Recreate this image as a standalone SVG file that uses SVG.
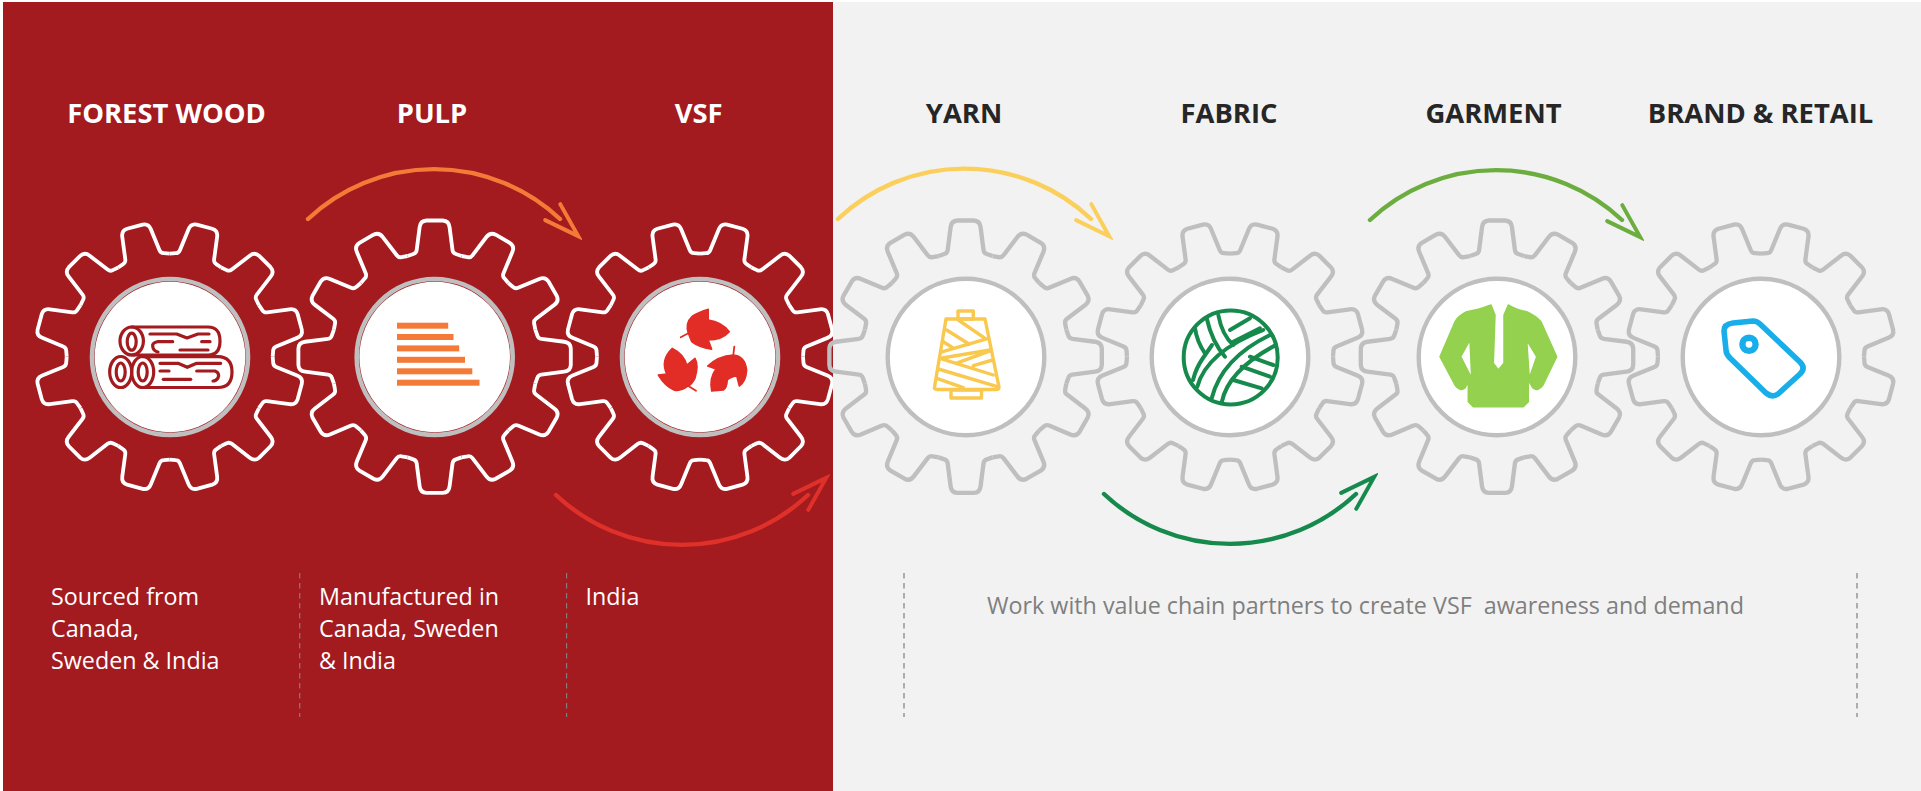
<svg xmlns="http://www.w3.org/2000/svg" width="1921" height="791" viewBox="0 0 1921 791">
<style>
text{font-family:"Open Sans","Liberation Sans",sans-serif}
.h{font-size:27.4px;font-weight:700;text-anchor:middle}
.hw{fill:#fff}.hd{fill:#262626}
.b{font-size:23.3px;fill:#fff}
.n{font-size:23.3px;fill:#7f7f7f;white-space:pre}
.gw{fill:none;stroke:#fff;stroke-width:3.8}
.gg{fill:none;stroke:#bfbfbf;stroke-width:4.3}
.ring{fill:none;stroke:#bfbfbf;stroke-width:4.6}
.ringg{fill:#fff;stroke:#bfbfbf;stroke-width:4.4}
.disc{fill:#fff}
.arc{fill:none;stroke-width:4.4;stroke-linecap:round}
.dash{fill:none;stroke:#7f7f7f;stroke-width:1.2;stroke-dasharray:5.5 4.5}
.head{fill:none;stroke-width:4;stroke-linecap:round;stroke-linejoin:miter}
.log{fill:none;stroke:#a31a1f;stroke-width:3.2;stroke-linecap:round;stroke-linejoin:round}
.yarn{fill:none;stroke:#f9c84f;stroke-width:3.4;stroke-linecap:round;stroke-linejoin:round}
.ball{fill:none;stroke:#168a4c;stroke-width:4;stroke-linecap:round;stroke-linejoin:round}
.leaf{fill:#e12d26;stroke:#e12d26;stroke-width:1.5;stroke-linejoin:round}
.stem{fill:none;stroke:#e12d26;stroke-width:1.8;stroke-linecap:round}
</style>
<defs>
<path id="tooth" d="M-26.66,-99.49 L-21,-101.5 Q-18.06,-102.4 -17.7,-105.5 L-14.8,-128 Q-14.1,-134.3 -8,-134.6 L8,-134.6 Q14.1,-134.3 14.8,-128 L17.7,-105.5 Q18.06,-102.4 21,-101.5 L26.66,-99.49"/>
<g id="gear">
<use href="#tooth"/>
<use href="#tooth" transform="rotate(30)"/>
<use href="#tooth" transform="rotate(60)"/>
<use href="#tooth" transform="rotate(90)"/>
<use href="#tooth" transform="rotate(120)"/>
<use href="#tooth" transform="rotate(150)"/>
<use href="#tooth" transform="rotate(180)"/>
<use href="#tooth" transform="rotate(210)"/>
<use href="#tooth" transform="rotate(240)"/>
<use href="#tooth" transform="rotate(270)"/>
<use href="#tooth" transform="rotate(300)"/>
<use href="#tooth" transform="rotate(330)"/>
</g>
<marker id="mOrange" markerUnits="userSpaceOnUse" markerWidth="44" markerHeight="32" viewBox="-14 -16 44 32" refX="0" refY="0" orient="auto"><path class="head" stroke="#f47b37" d="M-10,-11 L25,0 L-10,11"/></marker>
<marker id="mRed" markerUnits="userSpaceOnUse" markerWidth="44" markerHeight="32" viewBox="-14 -16 44 32" refX="0" refY="0" orient="auto"><path class="head" stroke="#e0302a" d="M-10,-11 L25,0 L-10,11"/></marker>
<marker id="mYellow" markerUnits="userSpaceOnUse" markerWidth="44" markerHeight="32" viewBox="-14 -16 44 32" refX="0" refY="0" orient="auto"><path class="head" stroke="#fbcf5c" d="M-10,-11 L25,0 L-10,11"/></marker>
<marker id="mDark" markerUnits="userSpaceOnUse" markerWidth="44" markerHeight="32" viewBox="-14 -16 44 32" refX="0" refY="0" orient="auto"><path class="head" stroke="#168a4c" d="M-10,-11 L25,0 L-10,11"/></marker>
<marker id="mLime" markerUnits="userSpaceOnUse" markerWidth="44" markerHeight="32" viewBox="-14 -16 44 32" refX="0" refY="0" orient="auto"><path class="head" stroke="#6cad3f" d="M-10,-11 L25,0 L-10,11"/></marker>
</defs>
<rect width="1921" height="791" fill="#fff"/>
<rect x="3" y="2" width="830" height="789" fill="#a31a1f"/>

<g id="node-forest-wood">
<text class="h hw" x="166.5" y="123">FOREST WOOD</text>
<use href="#gear" class="gw" transform="translate(169.7,356.7) rotate(15)"/>
<circle class="ring" cx="170" cy="357" r="78"/><circle class="disc" cx="170" cy="357" r="75.3"/>
<g class="log">
<ellipse cx="131.7" cy="341" rx="11.7" ry="14"/><ellipse cx="131.7" cy="341.7" rx="4.5" ry="8.5"/>
<path d="M131.7,327H208Q220,327 220,341Q220,355 208,355H131.7"/>
<ellipse cx="120.7" cy="372" rx="11" ry="15.5"/><ellipse cx="120.7" cy="372" rx="4.5" ry="9"/>
<ellipse cx="142.7" cy="372" rx="11" ry="15.5"/><ellipse cx="142.7" cy="372" rx="4.5" ry="9"/>
<path d="M142.7,356.7H218Q232,357 232,372Q232,387.5 218,387.5H142.7"/>
<path d="M150,334H176.7L187,338L198,334H209"/>
<path d="M172.7,341.7H157.3Q152,343 152.7,346Q153,351 158,352"/>
<path d="M201.7,341.7H210"/><path d="M180,350H208"/>
<path d="M160,363.3H178L187.3,367.3L196.7,363.3H220.7"/>
<path d="M160,371H169"/>
<path d="M196.7,371H215Q220,373 218,378Q216,381 213,381"/>
<path d="M163.3,379.3H190.7"/>
</g>
<text class="b" x="51" y="605">Sourced from</text><text class="b" x="51" y="637">Canada,</text><text class="b" x="51" y="669">Sweden &amp; India</text>
</g>

<g id="node-pulp">
<text class="h hw" x="432" y="123">PULP</text>
<use href="#gear" class="gw" transform="translate(434.6,356.7) scale(1.012)"/>
<circle class="ring" cx="434.7" cy="357" r="78"/><circle class="disc" cx="434.7" cy="357" r="75.3"/>
<g fill="#f47b37">
<rect x="397" y="322.7" width="51.2" height="6"/>
<rect x="397" y="334" width="56.5" height="6"/>
<rect x="397" y="345.4" width="62.2" height="6"/>
<rect x="397" y="356.8" width="68" height="6"/>
<rect x="397" y="368.3" width="75.3" height="6"/>
<rect x="397" y="379.7" width="82.5" height="6"/>
</g>
<text class="b" x="319" y="605">Manufactured in</text><text class="b" x="319" y="637">Canada, Sweden</text><text class="b" x="319" y="669">&amp; India</text>
</g>

<g id="node-vsf">
<text class="h hw" x="698.6" y="123">VSF</text>
<use href="#gear" class="gw" transform="translate(700,356.7) rotate(15)"/>
<circle class="ring" cx="700" cy="357" r="78"/><circle class="disc" cx="700" cy="357" r="75.3"/>
<path class="leaf" d="M688.3,333.3Q685,323 691.7,316.7Q697,313 708.3,309.3L708.3,320Q722,322 729.3,331.7Q722,340 708.3,340L711.7,349.3Q698,347 691.7,341.7Z"/>
<path class="stem" d="M680.7,337.3L688.3,333.3"/>
<path class="leaf" d="M672.3,348.3Q684,354 686.7,365L695,358.3Q699,365 695,378.3Q692,384 688.3,386Q680,392 674,390Q665,386 658.3,375L666.7,374Q660,360 672.3,348.3Z"/>
<path class="stem" d="M688.3,386L696,390.7"/>
<path class="leaf" d="M733.3,355Q745,356 746.7,370Q746,382 739.3,386L736.7,376Q730,377 727.3,380Q727,388 723.3,390L711.7,391Q709,378 716,369L707.7,366Q718,356 733.3,355Z"/>
<path class="stem" d="M734.3,346.7L733.3,355"/>
<text class="b" x="585.5" y="605">India</text>
</g>

<rect x="833" y="2" width="1088" height="789" fill="#f2f2f2"/>

<g id="node-yarn">
<text class="h hd" x="964" y="123">YARN</text>
<use href="#gear" class="gg" transform="translate(965.6,356.7) scale(1.012)"/>
<circle class="ringg" cx="966" cy="357" r="78.3"/>
<g class="yarn">
<rect x="958" y="311" width="15.3" height="8"/>
<path d="M946,319H985L999,387Q999,389.5 996,389.5H937Q934,389.5 934.5,387Z"/>
<rect x="951" y="390" width="30.5" height="8"/>
<path d="M958.3,320L984,337.7M946.7,330L969.3,344.3M943.3,341.7L952.7,347.7M942.7,351.7L988.3,338.3M940.7,358.3L990,350M956,363.3L990.7,350.7M940,358.3L993.3,375M973.3,365.7L992.7,360M938.3,369L997.3,386.7M936.7,378.3L963.3,387.7"/>
</g>
</g>

<g id="node-fabric">
<text class="h hd" x="1229" y="123">FABRIC</text>
<use href="#gear" class="gg" transform="translate(1230,356.7) rotate(15)"/>
<circle class="ringg" cx="1230" cy="357" r="78.3"/>
<g class="ball">
<circle cx="1230.7" cy="357.4" r="47"/>
<path d="M1197.3,386.7Q1206.7,351.7 1263.3,330"/>
<path d="M1211.7,398.3Q1221.7,358.3 1270,335"/>
<path d="M1221.7,402.3Q1228.3,370 1276,345"/>
<path d="M1218.3,315Q1222,335 1233.3,345"/>
<path d="M1206.7,318.3Q1212,342 1225,356.7"/>
<path d="M1195,328.3Q1197,342 1205,353.3"/>
<path d="M1212,345L1203,358Q1196,368 1193,380"/>
<path d="M1230,330L1250,318.3M1233.3,341.7L1260,328.3"/>
<path d="M1250,356.7L1273.3,365M1241.7,366.7L1270,376.7M1233.3,380L1261.7,388.3"/>
</g>
</g>

<g id="node-garment">
<text class="h hd" x="1493.5" y="123">GARMENT</text>
<use href="#gear" class="gg" transform="translate(1497,356.7) scale(1.012)"/>
<circle class="ringg" cx="1497" cy="357" r="78.3"/>
<path fill="#93d14e" fill-rule="evenodd" stroke="#93d14e" stroke-width="1.5" stroke-linejoin="round" d="M1491,305Q1478,310 1466.7,311.7Q1458,316 1455,321.7L1440,356.7L1455,385Q1460,392 1465,388L1468.3,381.7V401.7L1473.3,406.7H1523.3L1528.3,401.7V380L1533,388Q1538,392 1543,385L1556.7,356.7L1541,321.7Q1536,316 1526.7,311.7Q1516,310 1508.3,305L1504,315V363.3L1498.3,370L1493.3,363.3L1495,315ZM1460.7,356.7L1470,340L1471.7,378.3ZM1526.7,340L1536.7,356.7L1529.3,378.3Z"/>
</g>

<g id="node-brand-retail">
<text class="h hd" x="1760.5" y="123">BRAND &amp; RETAIL</text>
<use href="#gear" class="gg" transform="translate(1761,356.7) rotate(15)"/>
<circle class="ringg" cx="1761" cy="357" r="78.3"/>
<path fill="none" stroke="#17aeea" stroke-width="5.6" stroke-linejoin="round" d="M1733,323L1753,321Q1757,321 1760,324L1800,362Q1806,368 1800,374L1778,394Q1772,398 1766,393L1730,358Q1726,354 1726,350L1724,331Q1724,324 1733,323Z"/>
<circle cx="1749" cy="344.3" r="6.6" fill="none" stroke="#17aeea" stroke-width="6.4"/>
</g>

<g id="connectors">
<path class="arc" stroke="#f47b37" marker-end="url(#mOrange)" d="M308,219A184,184 0 0 1 560,219"/>
<path class="arc" stroke="#e0302a" marker-end="url(#mRed)" d="M556,495A184,184 0 0 0 808,495"/>
<path class="arc" stroke="#fbcf5c" marker-end="url(#mYellow)" d="M838,219A184,184 0 0 1 1091,219"/>
<path class="arc" stroke="#168a4c" marker-end="url(#mDark)" d="M1104,494A184,184 0 0 0 1356,494"/>
<path class="arc" stroke="#6cad3f" marker-end="url(#mLime)" d="M1370,220A184,184 0 0 1 1622,220"/>
</g>

<g id="dividers">
<path class="dash" d="M299.7,573V717"/>
<path class="dash" d="M566.6,573V717"/>
<path class="dash" d="M904,573V717"/>
<path class="dash" d="M1857,573V717"/>
</g>
<text class="n" x="987" y="614">Work with value chain partners to create VSF  awareness and demand</text>
</svg>
